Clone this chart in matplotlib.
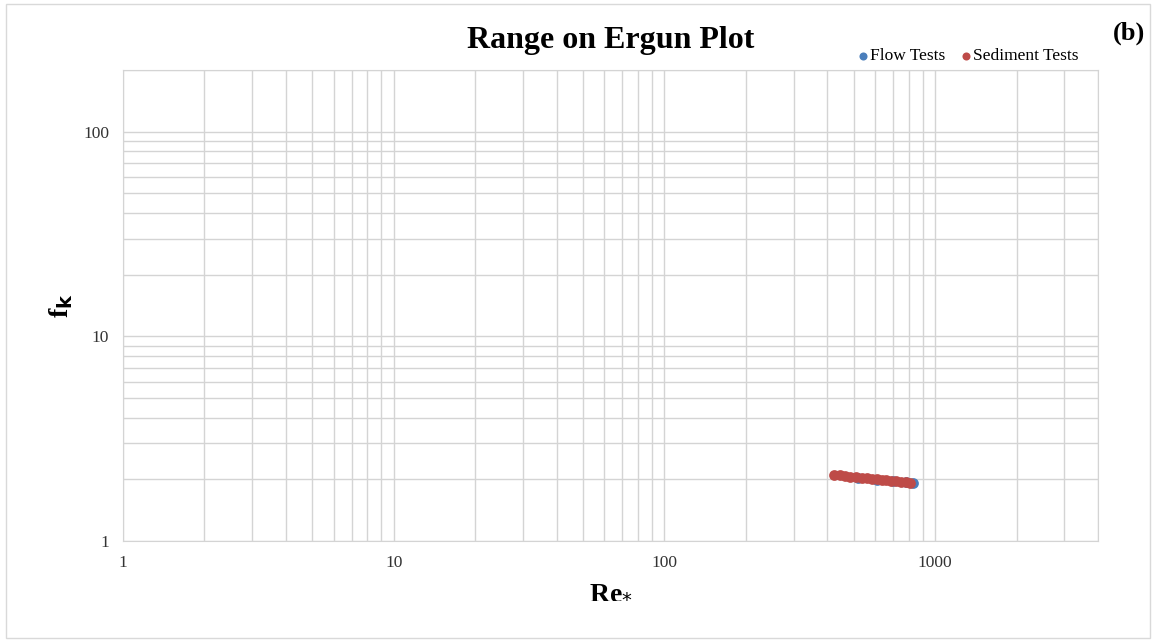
import matplotlib
matplotlib.use('Agg')
import matplotlib.pyplot as plt
from matplotlib.ticker import FixedLocator, LogLocator, NullFormatter, FixedFormatter
from matplotlib.patches import Rectangle

plt.rcParams['font.family'] = ['Liberation Serif', 'DejaVu Serif']

# Re* and friction factor for each test set
flow_re = [520, 610, 700, 780, 830]
flow_fk = [2.04, 1.99, 1.96, 1.94, 1.92]
sed_re = [425, 445, 465, 485, 510, 535, 560, 585, 610, 635, 660, 690, 720, 750, 780, 810]
sed_fk = [2.11, 2.09, 2.08, 2.06, 2.05, 2.04, 2.02, 2.01, 2.00, 1.99, 1.98, 1.97, 1.96, 1.95, 1.94, 1.93]

x_ticks = [1, 10, 100, 1000]
y_ticks = [1, 10, 100]

fig = plt.figure(figsize=(11.55, 6.42), dpi=100)
ax = fig.add_axes([123 / 1155, 1 - 541 / 642, (1098 - 123) / 1155, (541 - 70) / 642])

grid_c = '#d4d4d4'
ax.set_xscale('log')
ax.set_yscale('log')
ax.set_xlim(1, 4000)
ax.set_ylim(1, 200)

ax.xaxis.set_major_locator(FixedLocator(x_ticks))
ax.xaxis.set_major_formatter(FixedFormatter([str(v) for v in x_ticks]))
ax.xaxis.set_minor_locator(LogLocator(base=10, subs=range(2, 10)))
ax.xaxis.set_minor_formatter(NullFormatter())
ax.yaxis.set_major_locator(FixedLocator(y_ticks))
ax.yaxis.set_major_formatter(FixedFormatter([str(v) for v in y_ticks]))
ax.yaxis.set_minor_locator(LogLocator(base=10, subs=range(2, 10)))
ax.yaxis.set_minor_formatter(NullFormatter())

ax.grid(True, which='both', color=grid_c, linewidth=1.0)
ax.set_axisbelow(True)
ax.tick_params(which='both', length=0, labelsize=12.5, colors='#333333', pad=10)
for s in ax.spines.values():
    s.set_color(grid_c)

ax.scatter(flow_re, flow_fk, s=60, color='#4a7ebb', zorder=3, label='Flow Tests', linewidths=0)
ax.scatter(sed_re, sed_fk, s=60, color='#be4b48', zorder=4, label='Sediment Tests', linewidths=0)

ax.set_xlabel('Re$_{*}$', fontsize=20, fontweight='bold', labelpad=6)
ax.set_ylabel('f$_\\mathbf{k}$', fontsize=20, fontweight='bold', labelpad=6)
ax.set_title('Range on Ergun Plot', fontsize=23, fontweight='bold', pad=16)

fig.legend(loc='upper right', bbox_to_anchor=(1085 / 1155, 1 - 41 / 642), ncol=2,
           frameon=False, fontsize=12.5, handletextpad=-0.2, columnspacing=0.6,
           handlelength=1.2, markerscale=0.75, borderaxespad=0)
fig.text(1145 / 1155, 1 - 33 / 642, '(b)', fontsize=19, fontweight='bold', ha='right', va='center')

fig.patches.append(Rectangle((6 / 1155, 4 / 642), 1144 / 1155, 634 / 642,
                             transform=fig.transFigure, fill=False, edgecolor='#d9d9d9', linewidth=1))

fig.savefig('out.png', dpi=100)
